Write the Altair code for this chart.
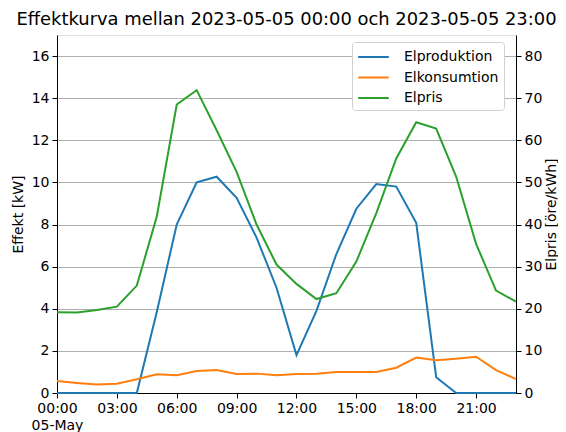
import altair as alt
import pandas as pd

hours = list(range(24))
elproduktion = [0, 0, 0, 0, 0, 3.85, 8.0, 10.0, 10.27, 9.27, 7.38, 5.0, 1.8, 3.9,
                6.6, 8.75, 9.92, 9.8, 8.08, 0.75, 0.0, 0, 0, 0]
elkonsumtion = [0.57, 0.48, 0.4, 0.44, 0.65, 0.89, 0.84, 1.04, 1.09, 0.9, 0.92, 0.84,
                0.9, 0.92, 1.0, 1.0, 1.0, 1.2, 1.68, 1.55, 1.63, 1.72, 1.09, 0.66]
elpris = [19.2, 19.1, 19.7, 20.5, 25.5, 41.9, 68.5, 71.9, 62.4, 52.5, 40.0, 30.5,
          25.9, 22.3, 23.7, 31.2, 42.7, 55.7, 64.3, 62.8, 51.4, 35.4, 24.3, 21.7]
series = ["Elproduktion", "Elkonsumtion", "Elpris"]
colors = ["#1f77b4", "#ff7f0e", "#2ca02c"]
x_ticks = [0, 3, 6, 9, 12, 15, 18, 21]

power = pd.DataFrame({
    "hour": hours * 2,
    "value": elproduktion + elkonsumtion,
    "serie": [series[0]] * 24 + [series[1]] * 24,
})
price = pd.DataFrame({"hour": hours, "value": elpris, "serie": [series[2]] * 24})

FONT = "DejaVu Sans"
color = alt.Color(
    "serie:N",
    scale=alt.Scale(domain=series, range=colors),
    legend=alt.Legend(
        title=None, orient="none", legendX=295, legendY=7, symbolType="M-1.7,0H1.7",
        symbolSize=324, symbolStrokeWidth=2, labelFontSize=14, labelFont=FONT,
        labelColor="black", fillColor="white", strokeColor="#d0d0d0",
        cornerRadius=3, padding=5, rowPadding=3.5, labelOffset=20.5,
        symbolOffset=6.5, symbolFillColor="transparent",
    ),
    sort=series,
)

x = alt.X(
    "hour:Q",
    scale=alt.Scale(domain=[0, 23], nice=False, zero=False),
    axis=alt.Axis(
        values=x_ticks, title=None, grid=False, labelFontSize=14, labelFont=FONT,
        labelColor="black", tickColor="black", domainColor="black", tickSize=5,
        labelPadding=3, labelFlush=False, labelLineHeight=17,
        labelExpr="datum.value == 0 ? ['00:00', '05-May'] : (datum.value < 10 ? '0' : '') + datum.value + ':00'",
    ),
)

left = alt.Chart(power).mark_line(strokeWidth=2).encode(
    x=x,
    y=alt.Y(
        "value:Q",
        scale=alt.Scale(domain=[0, 17], nice=False),
        axis=alt.Axis(
            title="Effekt [kW]", values=list(range(0, 17, 2)), grid=True,
            gridColor="#b0b0b0", gridWidth=1.1, labelFontSize=14, labelFont=FONT,
            titleFont=FONT, titleFontSize=14, titleFontWeight="normal",
            labelColor="black", titleColor="black", tickColor="black",
            domainColor="black", tickSize=5, labelPadding=3, titlePadding=6,
        ),
    ),
    color=color,
    detail="serie:N",
)

right = alt.Chart(price).mark_line(strokeWidth=2).encode(
    x=x,
    y=alt.Y(
        "value:Q",
        scale=alt.Scale(domain=[0, 85], nice=False),
        axis=alt.Axis(
            title="Elpris [öre/kWh]", orient="right", values=list(range(0, 81, 10)),
            grid=False, labelFontSize=14, labelFont=FONT, titleFont=FONT,
            titleFontSize=14, titleFontWeight="normal", labelColor="black",
            titleColor="black", tickColor="black", domainColor="black", tickSize=5,
            labelPadding=3, titlePadding=3, titleAngle=270, titleBaseline="top",
        ),
    ),
    color=color,
)

chart = alt.layer(left, right).resolve_scale(y="independent").properties(
    width=459,
    height=358,
    autosize=alt.AutoSizeParams(type="none"),
    padding={"left": 49, "top": 27, "right": 42, "bottom": 39},
    title=alt.TitleParams(
        "Effektkurva mellan 2023-05-05 00:00 och 2023-05-05 23:00",
        font=FONT, fontSize=17.9, fontWeight="normal", color="black",
        anchor="middle", offset=6,
    ),
).configure_view(stroke="black", strokeWidth=1.1).configure(background="white")

chart.save("out.html", embed_options={"renderer": "svg", "actions": False})
